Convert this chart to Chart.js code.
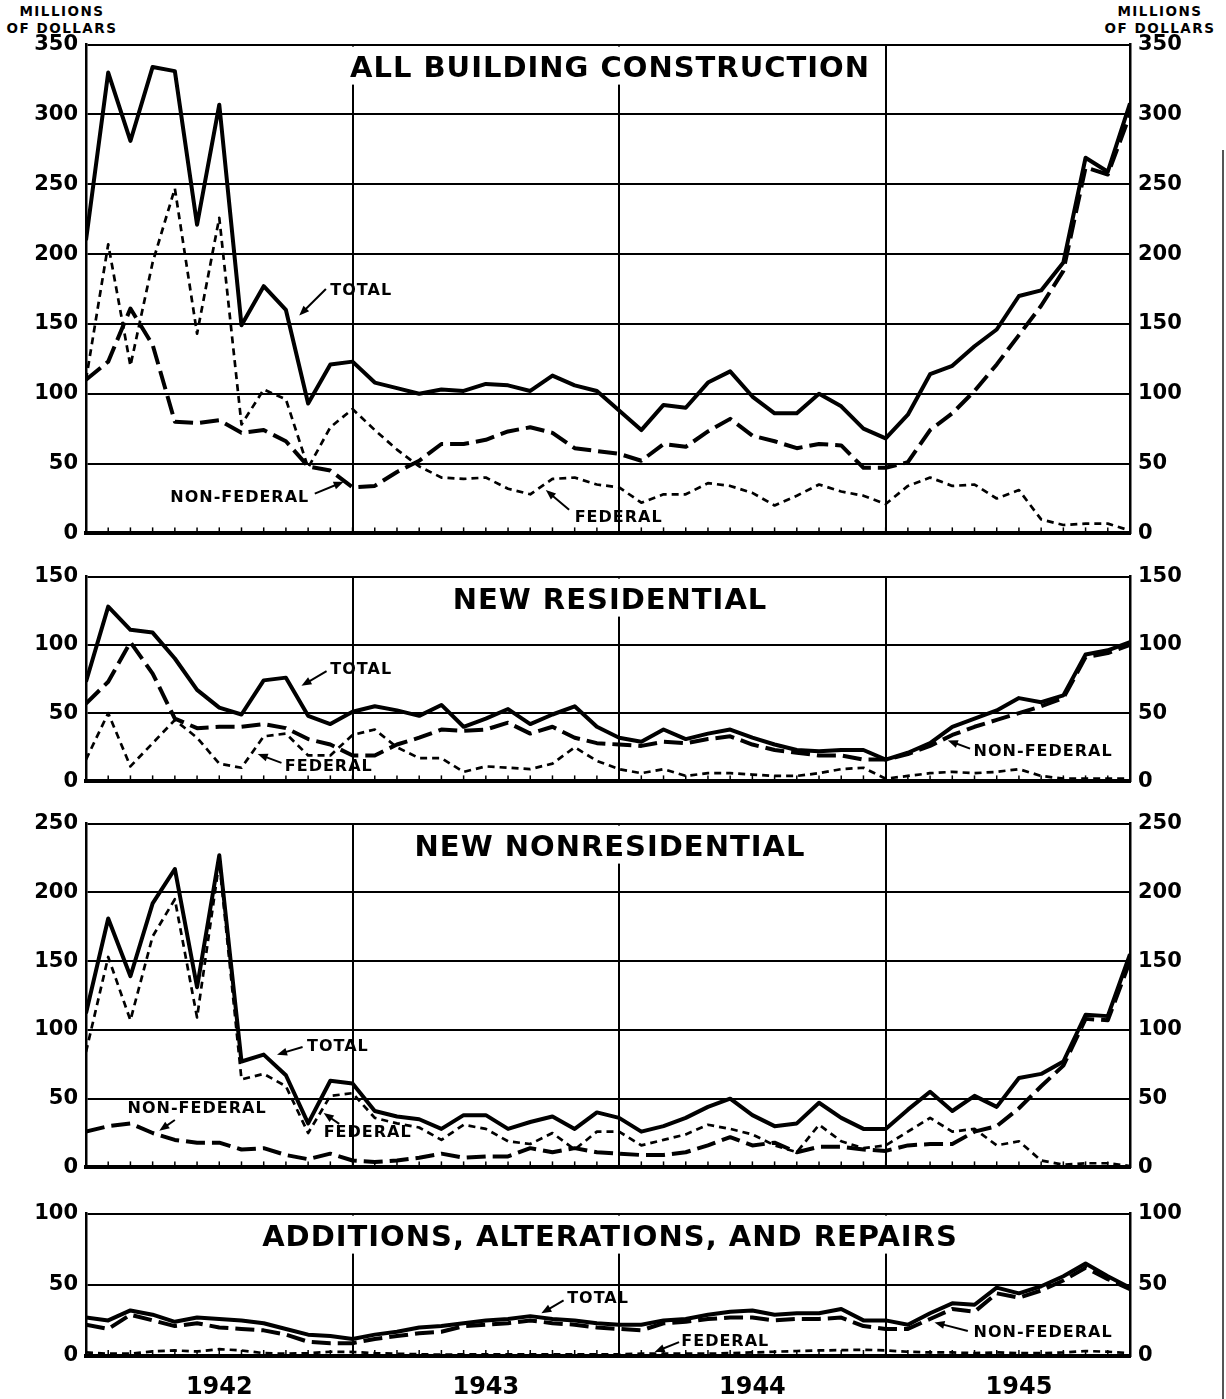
<!DOCTYPE html>
<html>
<head>
<meta charset="utf-8">
<script src="https://cdn.jsdelivr.net/npm/chart.js@4.4.1/dist/chart.umd.min.js"></script>
<style>
  html, body { margin: 0; padding: 0; background: #fff; }
  #page { position: relative; width: 1226px; height: 1399px; overflow: hidden; background: #fff; font-family: "DejaVu Sans", sans-serif; }
  #page canvas { position: absolute; left: 0; }
  .units { position: absolute; font-weight: bold; font-size: 13.5px; line-height: 17px; text-align: center; color: #000; letter-spacing: 1.5px; }
  .edge { position: absolute; left: 1222px; top: 150px; width: 2px; height: 1249px; background: #555; }
</style>
</head>
<body>
<div id="page">
  <div class="units" style="left:0; top:3px; width:124px;">MILLIONS<br>OF DOLLARS</div>
  <div class="units" style="left:1098px; top:3px; width:124px;">MILLIONS<br>OF DOLLARS</div>
  <div class="edge"></div>
  <canvas id="c1"></canvas>
  <canvas id="c2"></canvas>
  <canvas id="c3"></canvas>
  <canvas id="c4"></canvas>
</div>
<script>
// months Jan 1942 .. Dec 1945, one point per month
const monthNames = ['Jan','Feb','Mar','Apr','May','Jun','Jul','Aug','Sep','Oct','Nov','Dec'];
const years = ['1942', '1943', '1944', '1945'];
const months = years.flatMap(y => monthNames.map(m => m + ' ' + y));

// All building construction (millions of dollars)
const allTotal  = [210,330,281,334,331,221,307,149,177,160,93,121,123,108,104,100,103,102,107,106,102,113,106,102,88,74,92,90,108,116,98,86,86,100,91,75,68,85,114,120,134,146,170,174,194,269,259,308];
const allNonFed = [110,123,161,135,80,79,81,72,74,66,48,45,33,34,44,52,64,64,67,73,76,72,61,59,57,52,64,62,73,82,70,66,61,64,63,47,47,51,74,86,102,121,142,163,188,262,257,300];
const allFed    = [110,207,120,194,247,143,226,78,103,96,47,76,89,74,60,48,40,39,40,32,28,39,40,35,33,22,28,28,36,34,29,20,27,35,30,27,21,34,40,34,35,25,31,10,6,7,7,2];

// New residential
const resTotal  = [73,128,111,109,90,67,54,49,74,76,48,42,51,55,52,48,56,40,46,53,42,49,55,40,32,29,38,31,35,38,32,27,23,22,23,23,16,21,28,40,46,52,61,58,63,93,96,102];
const resNonFed = [57,73,102,79,46,39,40,40,42,39,31,27,19,19,27,32,38,37,38,43,35,40,32,28,27,26,29,28,31,33,27,23,21,19,19,16,16,20,26,34,40,45,50,55,61,91,94,100];
const resFed    = [16,50,11,28,45,32,13,10,33,35,19,19,34,38,25,17,17,7,11,10,9,13,25,15,9,6,9,4,6,6,5,4,4,6,9,10,2,4,6,7,6,7,9,4,2,2,2,2];

// New nonresidential
const nonresTotal  = [112,181,139,192,217,131,227,77,82,67,32,63,61,41,37,35,28,38,38,28,33,37,28,40,36,26,30,36,44,50,38,30,32,47,36,28,28,42,55,41,52,44,65,68,77,111,110,155];
const nonresNonFed = [26,30,32,25,20,18,18,13,14,9,6,10,5,4,5,7,10,7,8,8,14,11,14,11,10,9,9,11,16,22,16,18,11,15,15,13,12,16,17,17,26,30,43,59,74,108,107,150];
const nonresFed    = [84,153,107,168,195,109,222,64,68,59,25,52,54,36,32,29,20,31,28,19,17,25,13,26,26,16,20,24,31,28,24,16,11,31,19,14,16,26,36,26,28,16,19,5,2,3,3,1];

// Additions, alterations, and repairs
const addTotal  = [27,25,32,29,24,27,26,25,23,19,15,14,12,15,17,20,21,23,25,26,28,26,25,23,22,22,25,26,29,31,32,29,30,30,33,25,25,22,30,37,36,48,44,49,56,65,56,48];
const addNonFed = [22,19,29,25,21,23,20,19,18,15,10,9,9,12,14,16,17,21,22,23,25,23,22,20,19,18,23,24,26,27,27,25,26,26,27,21,19,19,26,33,31,44,41,46,53,62,54,47];
const addFed    = [2.5,1.6,1.6,3.2,3.9,3.2,4.8,3.9,2,1.6,2,3,2.8,2,1.6,1.2,0.9,1.2,1.2,1.2,1.2,1.2,1.2,1.2,1.2,1.6,1.6,1.6,1.6,2,2.5,3,3.5,3.9,4.1,4.4,3.9,3,2.5,2.5,2,2.5,2,2,2.5,3.5,3,2];

const panelTitles = ['ALL BUILDING CONSTRUCTION', 'NEW RESIDENTIAL', 'NEW NONRESIDENTIAL', 'ADDITIONS, ALTERATIONS, AND REPAIRS'];
const panelMax = [350, 150, 250, 100];

// series labels placed in data units (month index, value)
const panelNotes = [
  [
    { text: 'TOTAL', at: [11.0, 174], tail: [10.8, 175], head: [9.6, 156] },
    { text: 'NON-FEDERAL', at: [10.05, 25.6], right: true, tail: [10.3, 28.5], head: [11.6, 37] },
    { text: 'FEDERAL', at: [22.0, 11.4], tail: [21.75, 17], head: [20.7, 31] }
  ],
  [
    { text: 'TOTAL', at: [11.0, 81.4], tail: [10.83, 80.7], head: [9.7, 70] },
    { text: 'FEDERAL', at: [8.95, 10.7], tail: [8.8, 13.6], head: [7.73, 20] },
    { text: 'NON-FEDERAL', at: [39.96, 22], tail: [39.8, 24], head: [38.8, 30] }
  ],
  [
    { text: 'TOTAL', at: [9.95, 87.6], tail: [9.75, 87.6], head: [8.6, 82] },
    { text: 'NON-FEDERAL', at: [8.13, 42.4], right: true, tail: [4.0, 34.5], head: [3.3, 26.6] },
    { text: 'FEDERAL', at: [10.7, 25], tail: [11.4, 31.6], head: [10.7, 39.5] }
  ],
  [
    { text: 'TOTAL', at: [21.66, 40.3], tail: [21.5, 39], head: [20.5, 30] },
    { text: 'FEDERAL', at: [26.8, 9.7], tail: [26.7, 9.7], head: [25.6, 2.8] },
    { text: 'NON-FEDERAL', at: [39.96, 16], tail: [39.7, 17.5], head: [38.2, 23.6] }
  ]
];

const seriesSets = [
  [allTotal, allNonFed, allFed],
  [resTotal, resNonFed, resFed],
  [nonresTotal, nonresNonFed, nonresFed],
  [addTotal, addNonFed, addFed]
];

// page layout (plot area top/bottom in px)
const plotTop = [44, 576, 823, 1213];
const plotBottom = [538, 786, 1172, 1356];
const PAD_TOP = 20;
const FONT = '"DejaVu Sans", sans-serif';

function toXY(arr) {
  return arr.map((v, i) => ({ x: i, y: v }));
}

function decorPlugin(idx) {
  return {
    id: 'decor' + idx,
    beforeDatasetsDraw(chart) {
      const { ctx, chartArea } = chart;
      ctx.save();
      ctx.font = 'bold 29px ' + FONT;
      ctx.letterSpacing = '1px';
      const title = panelTitles[idx];
      const w = ctx.measureText(title).width;
      const cx = (chartArea.left + chartArea.right) / 2 + 2;
      ctx.fillStyle = '#fff';
      ctx.fillRect(cx - w / 2 - 12, chartArea.top + 2, w + 24, 38);
      ctx.fillStyle = '#000';
      ctx.textAlign = 'center';
      ctx.textBaseline = 'alphabetic';
      ctx.fillText(title, cx, chartArea.top + 32);
      ctx.restore();
    },
    afterDatasetsDraw(chart) {
      const { ctx, chartArea, scales } = chart;
      const x = scales.x, y = scales.y;
      ctx.save();
      // month tick marks pointing up from the base line
      ctx.strokeStyle = '#000';
      ctx.lineWidth = 1.5;
      for (let i = 1; i < months.length - 1; i++) {
        const px = x.getPixelForValue(i);
        ctx.beginPath();
        ctx.moveTo(px, chartArea.bottom);
        ctx.lineTo(px, chartArea.bottom - 6);
        ctx.stroke();
      }
      // series labels with arrows
      ctx.font = 'bold 16px ' + FONT;
      ctx.letterSpacing = '1px';
      ctx.textBaseline = 'middle';
      ctx.fillStyle = '#000';
      ctx.lineWidth = 2;
      panelNotes[idx].forEach(n => {
        ctx.textAlign = n.right ? 'right' : 'left';
        ctx.fillText(n.text, x.getPixelForValue(n.at[0]), y.getPixelForValue(n.at[1]));
        const tx = x.getPixelForValue(n.tail[0]), ty = y.getPixelForValue(n.tail[1]);
        const hx = x.getPixelForValue(n.head[0]), hy = y.getPixelForValue(n.head[1]);
        const ang = Math.atan2(hy - ty, hx - tx);
        ctx.beginPath();
        ctx.moveTo(tx, ty);
        ctx.lineTo(hx - 6 * Math.cos(ang), hy - 6 * Math.sin(ang));
        ctx.stroke();
        ctx.beginPath();
        ctx.moveTo(hx, hy);
        ctx.lineTo(hx - 10 * Math.cos(ang) + 4 * Math.sin(ang), hy - 10 * Math.sin(ang) - 4 * Math.cos(ang));
        ctx.lineTo(hx - 10 * Math.cos(ang) - 4 * Math.sin(ang), hy - 10 * Math.sin(ang) + 4 * Math.cos(ang));
        ctx.closePath();
        ctx.fill();
      });
      ctx.restore();
    }
  };
}

function makePanel(idx) {
  const last = idx === 3;
  const bottomH = last ? 43 : 16;
  const plotH = plotBottom[idx] - plotTop[idx];
  const canvas = document.getElementById('c' + (idx + 1));
  canvas.width = 1226;
  canvas.height = PAD_TOP + plotH + bottomH;
  canvas.style.top = (plotTop[idx] - PAD_TOP) + 'px';

  const [tot, nonFed, fed] = seriesSets[idx];
  const yTicks = { stepSize: 50, color: '#000', padding: 8, font: { family: FONT, size: 21, weight: 'bold' } };

  new Chart(canvas.getContext('2d'), {
    type: 'line',
    data: {
      datasets: [
        { label: 'Federal', data: toXY(fed), borderColor: '#000', borderWidth: 2.7, borderDash: [7, 5], pointRadius: 0, tension: 0, borderJoinStyle: 'round' },
        { label: 'Non-Federal', data: toXY(nonFed), borderColor: '#000', borderWidth: 4, borderDash: [19, 7], pointRadius: 0, tension: 0, borderJoinStyle: 'round' },
        { label: 'Total', data: toXY(tot), borderColor: '#000', borderWidth: 4, pointRadius: 0, tension: 0, borderJoinStyle: 'round' }
      ]
    },
    options: {
      responsive: false,
      animation: false,
      layout: { padding: { top: PAD_TOP, left: 0, right: 0, bottom: 0 } },
      plugins: { legend: { display: false }, tooltip: { enabled: false } },
      scales: {
        x: {
          type: 'linear', min: 0, max: months.length - 1,
          afterFit: s => { s.height = bottomH; },
          ticks: {
            stepSize: 1, autoSkip: false, maxRotation: 0, display: last, padding: 17, color: '#000',
            font: { family: FONT, size: 24, weight: 'bold' },
            callback: v => (v % 12 === 6 ? years[(v - 6) / 12] : '')
          },
          grid: {
            drawTicks: false, lineWidth: 2,
            color: c => (c.tick && c.tick.value % 12 === 0 && c.tick.value > 0 ? '#000' : 'rgba(0,0,0,0)')
          },
          border: { display: true, color: '#000', width: 4 }
        },
        y: {
          position: 'left', min: 0, max: panelMax[idx],
          afterFit: s => { s.width = 86; },
          ticks: yTicks,
          grid: { color: '#000', lineWidth: 2, drawTicks: false },
          border: { display: true, color: '#000', width: 2.5 }
        },
        y2: {
          position: 'right', min: 0, max: panelMax[idx],
          afterFit: s => { s.width = 96; },
          ticks: yTicks,
          grid: { display: false, drawTicks: false },
          border: { display: true, color: '#000', width: 2.5 }
        }
      }
    },
    plugins: [decorPlugin(idx)]
  });
}

[0, 1, 2, 3].forEach(makePanel);
</script>
</body>
</html>
